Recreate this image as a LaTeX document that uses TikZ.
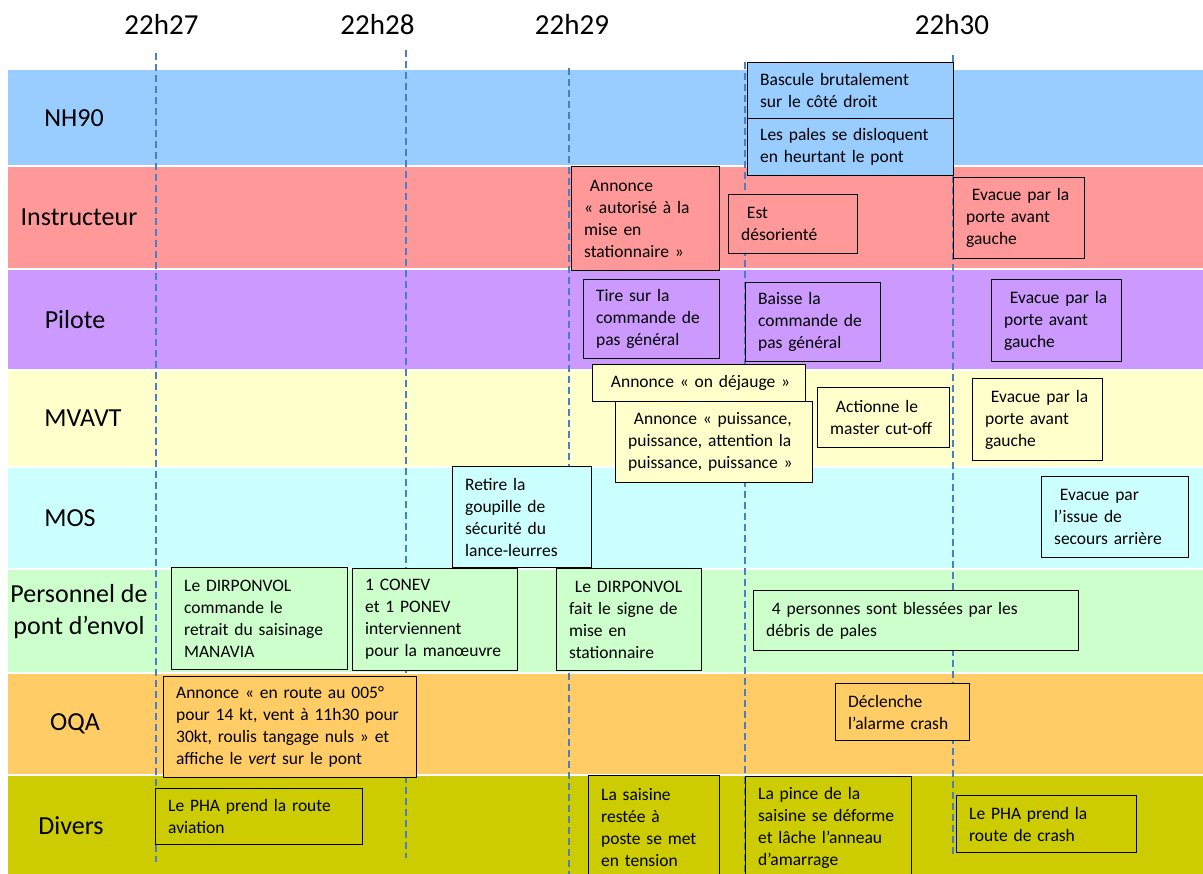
\documentclass[tikz,border=0pt]{standalone}
\usepackage{fontspec}
\setmainfont[Numbers=Lining]{Carlito}
\usepackage{tikz}

\definecolor{nhblue}{HTML}{99CCFF}
\definecolor{instred}{HTML}{FF9999}
\definecolor{pilpurple}{HTML}{CC99FF}
\definecolor{mvyellow}{HTML}{FFFFCC}
\definecolor{moscyan}{HTML}{CCFFFF}
\definecolor{pergreen}{HTML}{CCFFCC}
\definecolor{oqaorange}{HTML}{FFCC66}
\definecolor{divolive}{HTML}{CCCC00}
\definecolor{tickblue}{HTML}{4A7EC8}

\tikzset{
  event/.style={draw=black, line width=1.3pt, anchor=north west, align=left,
    inner xsep=12.5pt, inner ysep=2pt, font=\fontsize{17.5}{22}\selectfont},
  lanelabel/.style={align=center, inner sep=0pt, font=\fontsize{26}{32}\selectfont},
  timelabel/.style={anchor=base, inner sep=0pt, font=\fontsize{29}{34}\selectfont},
  tick/.style={tickblue, line width=1.3pt, dash pattern=on 7pt off 4pt},
}

\begin{document}
\begin{tikzpicture}[x=1pt, y=-1pt]
  \useasboundingbox (0,0) rectangle (1203,874);
  % Lanes
  \foreach \top/\bot/\col in {70/165/nhblue, 167/268/instred, 270/369/pilpurple,
      371/466/mvyellow, 468/568/moscyan, 570/672/pergreen, 674/774/oqaorange,
      776/880/divolive}
    \fill[\col] (8,\top) rectangle (1203,\bot);
  \node[lanelabel] (nh90) at (74,118) {NH90} ; %
  \node[lanelabel] (instructeur) at (79,217.5) {Instructeur} ; %
  \node[lanelabel] (pilote) at (75,319.5) {Pilote} ; %
  \node[lanelabel] (mvavt) at (83,418.5) {MVAVT} ; %
  \node[lanelabel] (mos) at (70,518) {MOS} ; %
  \node[lanelabel] (personnel) at (79,612) {Personnel de\\ pont d’envol} ; %
  \node[lanelabel] (oqa) at (75,724) {OQA} ; %
  \node[lanelabel] (divers) at (71,826) {Divers} ; %
  % Time scale
  \node[timelabel] (t27) at (161.5,35) {22h27} ; %
  \node[timelabel] (t28) at (377.5,35) {22h28} ; %
  \node[timelabel] (t29) at (572,35) {22h29} ; %
  \node[timelabel] (t30) at (952,35) {22h30} ; %
  \foreach \x/\a/\b in {156/53/862, 406/50/858, 569/68/874, 745/62/874, 953/55/857}
    \draw[tick] (\x,\a) -- (\x,\b);
  % Events
  \node[event, fill=nhblue, text width=181pt, minimum height=56pt] (bascule) at (747,62)
    {Bascule brutalement\\sur le côté droit} ; %
  \node[event, fill=nhblue, text width=181pt, minimum height=57pt] (pales) at (747,118)
    {Les pales se disloquent\\en heurtant le pont} ; %
  \node[event, fill=instred, text width=123pt, minimum height=104pt] (autorise) at (571,166)
    {\ Annonce\\« autorisé à la\\mise en\\stationnaire »} ; %
  \node[event, fill=instred, text width=104pt, minimum height=59pt] (desoriente) at (728,194)
    {\ Est\\désorienté} ; %
  \node[event, fill=instred, text width=106pt, minimum height=81pt] (evacinst) at (953,177)
    {\ Evacue par la\\porte avant\\gauche} ; %
  \node[event, fill=pilpurple, text width=111pt, minimum height=79pt] (tire) at (583,279)
    {Tire sur la\\commande de\\pas général} ; %
  \node[event, fill=pilpurple, text width=110pt, minimum height=79pt] (baisse) at (745,282)
    {Baisse la\\commande de\\pas général} ; %
  \node[event, fill=pilpurple, text width=105pt, minimum height=82pt] (evacpil) at (991,279)
    {\ Evacue par la\\porte avant\\gauche} ; %
  \node[event, fill=mvyellow, text width=188pt, minimum height=37pt] (dejauge) at (592,364)
    {\ Annonce « on déjauge »} ; %
  \node[event, fill=mvyellow, text width=172pt, minimum height=81pt] (puissance) at (615,401)
    {\ Annonce « puissance,\\puissance, attention la\\puissance, puissance »} ; %
  \node[event, fill=mvyellow, text width=107pt, minimum height=60pt] (cutoff) at (817,387)
    {\ Actionne le\\master cut-off} ; %
  \node[event, fill=mvyellow, text width=105pt, minimum height=82pt] (evacmv) at (972,378)
    {\ Evacue par la\\porte avant\\gauche} ; %
  \node[event, fill=moscyan, text width=114pt, minimum height=101pt] (goupille) at (452,466)
    {Retire la\\goupille de\\sécurité du\\lance-leurres} ; %
  \node[event, fill=moscyan, text width=122pt, minimum height=81pt] (evacmos) at (1041,476)
    {\ Evacue par\\l’issue de\\secours arrière} ; %
  \node[event, fill=pergreen, text width=151pt, minimum height=102pt] (retrait) at (171,567)
    {Le DIRPONVOL\\commande le\\retrait du saisinage\\MANAVIA} ; %
  \node[event, fill=pergreen, text width=140pt, minimum height=102pt] (conev) at (352,568)
    {1 CONEV\\et 1 PONEV\\interviennent\\pour la manœuvre} ; %
  \node[event, fill=pergreen, text width=120pt, minimum height=102pt] (signe) at (556,568)
    {\ Le DIRPONVOL\\fait le signe de\\mise en\\stationnaire} ; %
  \node[event, fill=pergreen, text width=300pt, minimum height=60pt] (blesses) at (753,590)
    {\ 4 personnes sont blessées par les\\débris de pales} ; %
  \node[event, fill=oqaorange, text width=228pt, minimum height=101pt] (route) at (163,676)
    {Annonce « en route au 005°\\pour 14 kt, vent à 11h30 pour\\30kt, roulis tangage nuls » et\\affiche le \textit{vert} sur le pont} ; %
  \node[event, fill=oqaorange, text width=109pt, minimum height=57pt] (alarme) at (835,683)
    {Déclenche\\l’alarme crash} ; %
  \node[event, fill=divolive, text width=182pt, minimum height=56pt] (aviation) at (155,788)
    {Le PHA prend la route\\aviation} ; %
  \node[event, fill=divolive, text width=106pt, minimum height=103pt] (tension) at (588,775)
    {La saisine\\restée à\\poste se met\\en tension} ; %
  \node[event, fill=divolive, text width=141pt, minimum height=102pt] (pince) at (745,776)
    {La pince de la\\saisine se déforme\\et lâche l’anneau\\d’amarrage} ; %
  \node[event, fill=divolive, text width=155pt, minimum height=57pt] (crash) at (956,795)
    {Le PHA prend la\\route de crash} ; %
\end{tikzpicture}
\end{document}
